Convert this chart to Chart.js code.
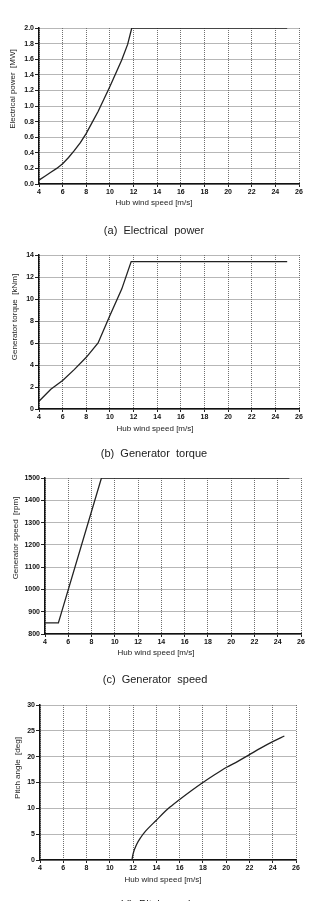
<!DOCTYPE html>
<html>
<head>
<meta charset="utf-8">
<script src="https://cdn.jsdelivr.net/npm/chart.js@4"></script>
<style>
  body { margin: 0; background: #fff; width: 309px; height: 901px; overflow: hidden; position: relative;
         font-family: "Liberation Sans", Arial, sans-serif; color: #222; }
  canvas { position: absolute; left: 0; }
  .lbl { position: absolute; white-space: pre; font-size: 8px; transform: translate(-50%, -50%); }
  .ylbl { transform: translate(-50%, -50%) rotate(-90deg); }
  .cap { position: absolute; white-space: pre; font-size: 11px; transform: translate(-50%, -50%); }
</style>
</head>
<body>
<canvas id="power" width="309" height="200" style="top:0px"></canvas>
<canvas id="torque" width="309" height="205" style="top:220px"></canvas>
<canvas id="speed" width="309" height="200" style="top:450px"></canvas>
<canvas id="pitch" width="309" height="196" style="top:680px"></canvas>

<div class="lbl ylbl" style="left:12px;top:89px">Electrical power  [MW]</div>
<div class="lbl" style="left:154px;top:202px">Hub wind speed [m/s]</div>
<div class="cap" style="left:154px;top:230px">(a)  Electrical  power</div>

<div class="lbl ylbl" style="left:14px;top:317px">Generator torque  [kNm]</div>
<div class="lbl" style="left:155px;top:428px">Hub wind speed [m/s]</div>
<div class="cap" style="left:154px;top:453px">(b)  Generator  torque</div>

<div class="lbl ylbl" style="left:15px;top:538px">Generator speed  [rpm]</div>
<div class="lbl" style="left:156px;top:652px">Hub wind speed [m/s]</div>
<div class="cap" style="left:155px;top:679px">(c)  Generator  speed</div>

<div class="lbl ylbl" style="left:17px;top:768px">Pitch angle  [deg]</div>
<div class="lbl" style="left:163px;top:879px">Hub wind speed [m/s]</div>
<div class="cap" style="left:158px;top:904px">(d)  Pitch  angle</div>

<script>
// values
const powerWind = [4, 4.5, 5, 5.5, 6, 6.5, 7, 7.5, 8, 8.5, 9, 9.5, 10, 10.5, 11, 11.5, 11.85, 25];
const powerMW = [0.05, 0.1, 0.15, 0.2, 0.26, 0.34, 0.43, 0.53, 0.65, 0.79, 0.93, 1.09, 1.25, 1.42, 1.59, 1.79, 2.0, 2.0];

const torqueWind = [4, 5, 6, 7, 8, 9, 10, 11, 11.8, 25];
const torqueKNm = [0.7, 1.8, 2.6, 3.6, 4.7, 6.0, 8.5, 10.9, 13.4, 13.4];

const speedWind = [4, 5.15, 8.85, 25];
const speedRpm = [850, 850, 1500, 1500];

const pitchWind = [11.9, 12, 12.3, 12.7, 13, 14, 15, 16, 17, 18, 19, 20, 21, 22, 23, 24, 25];
const pitchDeg = [0, 1.2, 3, 4.5, 5.4, 7.7, 9.9, 11.7, 13.4, 15, 16.5, 17.9, 19.1, 20.4, 21.7, 22.9, 24];

const xTicks = { min: 4, max: 26, step: 2 };

function makeChart(id, xs, ys, yMin, yMax, yStep, decimals, axisWidth, padRight, padTop, smooth) {
  const ctx = document.getElementById(id);
  const points = xs.map((x, i) => ({ x: x, y: ys[i] }));
  const tickFont = { family: "Liberation Sans", size: 7, weight: "bold" };
  return new Chart(ctx, {
    type: "line",
    data: {
      datasets: [{
        data: points,
        borderColor: "#222",
        borderWidth: 1.3,
        pointRadius: 0,
        fill: false,
        cubicInterpolationMode: smooth ? "monotone" : "default",
        tension: 0,
      }],
    },
    options: {
      responsive: false,
      animation: false,
      layout: { padding: { left: 0, right: padRight, top: padTop, bottom: 0 } },
      plugins: { legend: { display: false }, tooltip: { enabled: false } },
      scales: {
        x: {
          type: "linear",
          min: xTicks.min,
          max: xTicks.max,
          ticks: { stepSize: xTicks.step, color: "#111", font: tickFont, padding: 1, maxRotation: 0 },
          grid: { color: "#6f6f6f", lineWidth: 1, tickLength: 3, tickColor: "#222" },
          border: { display: true, color: "#111", width: 1.5, dash: [1, 1] },
          afterFit: (s) => { s.height = 16; },
        },
        y: {
          min: yMin,
          max: yMax,
          ticks: {
            stepSize: yStep,
            color: "#111",
            font: tickFont,
            padding: 1,
            callback: (v) => v.toFixed(decimals),
          },
          grid: { color: "#6f6f6f", lineWidth: 1, tickLength: 4, tickColor: "#222" },
          border: { display: true, color: "#111", width: 1.5, dash: [1, 1] },
          afterFit: (s) => { s.width = axisWidth; },
        },
      },
    },
  });
}

makeChart("power", powerWind, powerMW, 0, 2, 0.2, 1, 39, 10, 28, false);
makeChart("torque", torqueWind, torqueKNm, 0, 14, 2, 0, 39, 10, 35, false);
makeChart("speed", speedWind, speedRpm, 800, 1500, 100, 0, 45, 8, 28, false);
makeChart("pitch", pitchWind, pitchDeg, 0, 30, 5, 0, 40, 13, 25, true);
</script>
</body>
</html>
